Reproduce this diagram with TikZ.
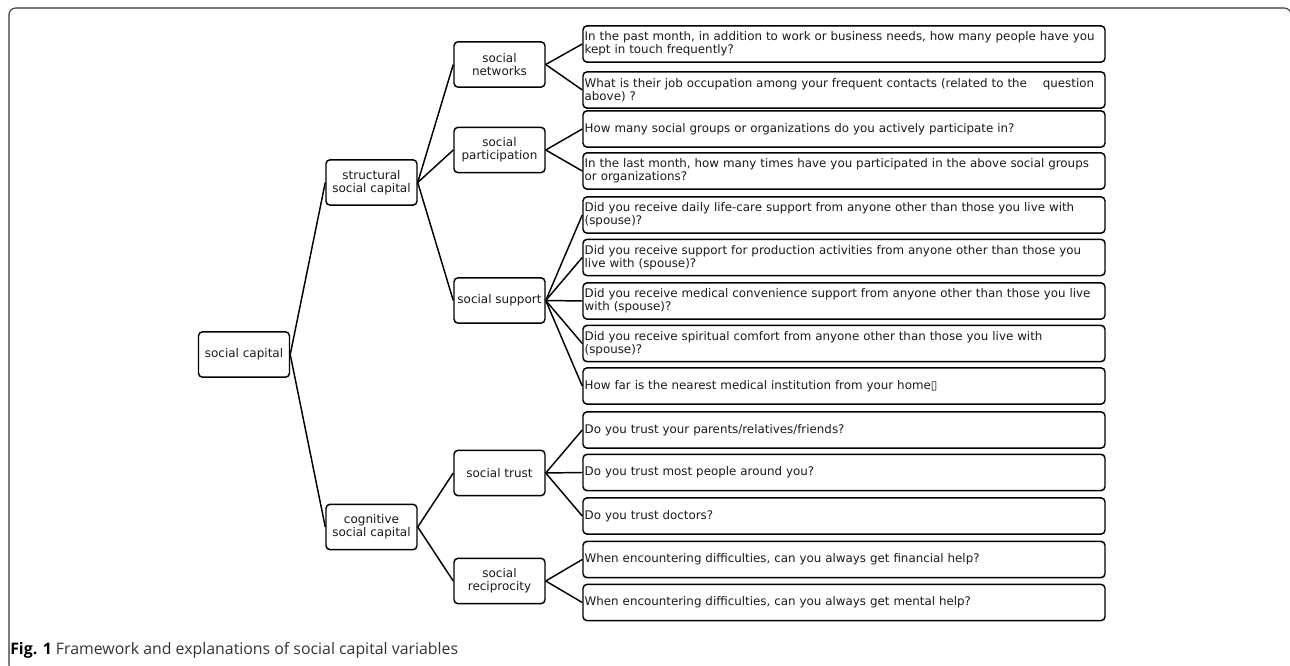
\documentclass[tikz,border=0pt]{standalone}
\usepackage{fontspec}
\setmainfont{DejaVu Sans}
\newfontfamily\capfont{Open Sans}
\begin{document}
\begin{tikzpicture}[x=0.75pt,y=-0.75pt,
  catbox/.style={draw=black,line width=1.1pt,rounded corners=3pt,minimum width=68.25pt,minimum height=34pt,align=center,inner sep=1pt,font=\fontsize{9}{9.6}\selectfont,text=black!90},
  leafbox/.style={draw=black,line width=1.1pt,rounded corners=3pt,minimum width=391.5pt,minimum height=27.2pt,text width=389pt,align=left,inner sep=1pt,font=\fontsize{8.9}{9.6}\selectfont,text=black!90},
  link/.style={draw=black,line width=1.1pt}]
\useasboundingbox (0,0) rectangle (1290,666);
\begin{scope}
\clip (0,0) rectangle (1290,666);
\draw[black!80,line width=0.8pt,rounded corners=5pt] (9,8) rectangle (1291,672);
\end{scope}
% categories
\node[catbox] (root) at (244,354.5) {social capital};
\node[catbox] (ssc) at (371.5,182.5) {structural\\social capital};
\node[catbox] (csc) at (371.5,527) {cognitive\\social capital};
\node[catbox] (sn) at (499.5,64.5) {social\\networks};
\node[catbox] (sp) at (499.5,150) {social\\participation};
\node[catbox] (ss) at (499.5,300.5) {social support};
\node[catbox] (st) at (499.5,473) {social trust};
\node[catbox] (sr) at (499.5,581) {social\\reciprocity};
% leaves
\node[leafbox] (l1) at (844,44) {In the past month, in addition to work or business needs, how many people have you\\kept in touch frequently?};
\node[leafbox] (l2) at (844,90) {What is their job occupation among your frequent contacts (related to the \ \ \ question\\above) ?};
\node[leafbox] (l3) at (844,129) {How many social groups or organizations do you actively participate in?};
\node[leafbox] (l4) at (844,171) {In the last month, how many times have you participated in the above social groups\\or organizations?};
\node[leafbox] (l5) at (844,215) {Did you receive daily life-care support from anyone other than those you live with\\(spouse)?};
\node[leafbox] (l6) at (844,257.5) {Did you receive support for production activities from anyone other than those you\\live with (spouse)?};
\node[leafbox] (l7) at (844,301) {Did you receive medical convenience support from anyone other than those you live\\with (spouse)?};
\node[leafbox] (l8) at (844,343.5) {Did you receive spiritual comfort from anyone other than those you live with\\(spouse)?};
\node[leafbox] (l9) at (844,386) {How far is the nearest medical institution from your home▯};
\node[leafbox] (l10) at (844,430) {Do you trust your parents/relatives/friends?};
\node[leafbox] (l11) at (844,472.5) {Do you trust most people around you?};
\node[leafbox] (l12) at (844,516) {Do you trust doctors?};
\node[leafbox] (l13) at (844,559.5) {When encountering difficulties, can you always get financial help?};
\node[leafbox] (l14) at (844,602.5) {When encountering difficulties, can you always get mental help?};
% connectors
\draw[link] (root.east) -- (ssc.west);
\draw[link] (root.east) -- (csc.west);
\draw[link] (ssc.east) -- (sn.west);
\draw[link] (ssc.east) -- (sp.west);
\draw[link] (ssc.east) -- (ss.west);
\draw[link] (csc.east) -- (st.west);
\draw[link] (csc.east) -- (sr.west);
\draw[link] (sn.east) -- (l1.west);
\draw[link] (sn.east) -- (l2.west);
\draw[link] (sp.east) -- (l3.west);
\draw[link] (sp.east) -- (l4.west);
\draw[link] (ss.east) -- (l5.west);
\draw[link] (ss.east) -- (l6.west);
\draw[link] (ss.east) -- (l7.west);
\draw[link] (ss.east) -- (l8.west);
\draw[link] (ss.east) -- (l9.west);
\draw[link] (st.east) -- (l10.west);
\draw[link] (st.east) -- (l11.west);
\draw[link] (st.east) -- (l12.west);
\draw[link] (sr.east) -- (l13.west);
\draw[link] (sr.east) -- (l14.west);
% caption
\node[anchor=base west,inner sep=0pt,font=\capfont\fontsize{11.9}{14}\selectfont,text=black!80] (cap) at (10,655) {\textbf{\color{black}Fig. 1} Framework and explanations of social capital variables};
\end{tikzpicture}
\end{document}
